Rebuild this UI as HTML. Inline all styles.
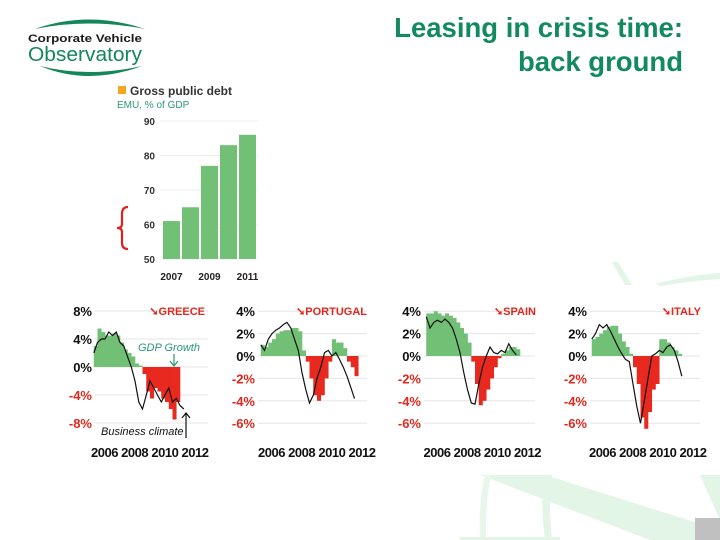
<!DOCTYPE html>
<html><head><meta charset="utf-8">
<style>
html,body{margin:0;padding:0;background:#fff;}
#root{position:relative;width:720px;height:540px;overflow:hidden;font-family:"Liberation Sans",sans-serif;}
.t{position:absolute;white-space:nowrap;}
</style></head>
<body>
<div id="root">
<svg id="bg" width="720" height="540" style="position:absolute;left:0;top:0">
  <polygon points="612,262 625,285 632,285 618,262" fill="#e3f5e6"/>
  <path d="M655,284 Q690,275 720,273 L720,279 Q690,281 660,286 Z" fill="#e3f5e6"/>
  <path d="M480,475 L650,540 L720,540 L720,530 L545,475 Z" fill="#e3f5e6"/>
  <path d="M545,475 Q540,500 545,540 L552,540 Q548,500 552,475 Z" fill="#e3f5e6"/>
  <path d="M485,475 Q478,505 480,540 L486,540 Q485,505 491,475 Z" fill="#e8f7ea"/>
  <path d="M700,475 L720,475 L720,520 Z" fill="#e3f5e6"/>
  <rect x="460" y="537" width="100" height="3" fill="#e3f5e6"/>
  <rect x="695" y="518" width="25" height="22" fill="#c0c0c0"/>
</svg>

<svg width="150" height="85" style="position:absolute;left:20px;top:10px">
  <path d="M15,19 Q68,0 125,19 Q68,8 15,19 Z" fill="#13865a"/>
  <path d="M20,56 Q68,76 122,56 Q68,68 20,56 Z" fill="#13865a"/>
  <text x="8" y="32" font-family="Liberation Sans,sans-serif" font-weight="bold" font-size="11" fill="#1b1b1b" textLength="114" lengthAdjust="spacingAndGlyphs">Corporate Vehicle</text>
  <text x="8" y="51" font-family="Liberation Sans,sans-serif" font-size="20" fill="#13865a" textLength="114" lengthAdjust="spacingAndGlyphs">Observatory</text>
</svg>

<div class="t" style="right:37px;top:11px;text-align:right;color:#128a5e;font-size:27.5px;font-weight:bold;line-height:34px;">Leasing in crisis time:<br>back ground</div>

<svg id="bars" width="180" height="200" style="position:absolute;left:100px;top:80px"></svg>
<svg id="small" width="720" height="180" style="position:absolute;left:0;top:290px"></svg>
</div>

<script>
// Bar chart data
const debtYears = ["2007","2008","2009","2010","2011"];
const debtValues = [61, 65, 77, 83, 86];
const debtTicks = [50, 60, 70, 80, 90];
const debtXLabels = ["2007","2009","2011"];

// Country chart data: quarterly from 2005.25
const greeceGdp = [3,5.5,5,4.5,4.5,4.8,4.5,3.5,2.5,2,1.5,0.5,0.2,-1,-3.5,-4.5,-3,-3.5,-4.5,-5,-6,-7.5,-5];
const greeceClimate = [2,3.5,4,4,5,4.5,5,3.5,3,1.5,0,-2,-5,-6,-4,-2,-3,-4,-5,-4,-3,-5,-4.5,-5.5,-6];
const portugalGdp = [1,0.8,1.2,1.5,2,2.2,2.3,2.3,2.5,2.5,2.2,0.5,-0.5,-2,-3.5,-4,-3.5,-2,-0.5,1.5,1.2,1.2,0.7,-0.5,-1,-1.8];
const portugalClimate = [1,0.5,1.5,2,2.3,2.5,2.8,3,2.5,1.5,0.5,-1.5,-3,-4.2,-3.5,-2,-1,0.3,0.5,0,0.3,-0.3,-1,-1.8,-2.8,-3.8];
const spainGdp = [3.8,3.8,4,3.8,3.6,3.8,3.6,3.4,3,2.5,2,1.2,-0.5,-2.5,-4.4,-4,-3,-2,-1,-0.2,0.2,0.5,0.8,0.8,0.6];
const spainClimate = [3.5,2.5,3,3.2,3,3.3,3,2.5,1.5,0.3,-1.5,-3,-4.2,-4.3,-2.5,-1,0,0.8,0.3,0.2,0.5,0.3,1.1,0.5,0.1];
const italyGdp = [1.5,1.7,2,2.3,2.6,2.7,2.7,2,1.3,0.8,0.2,-1,-2.5,-5.5,-6.5,-5,-3,-2.5,1.5,1.5,1.2,0.8,0.5,0.2];
const italyClimate = [1.5,2,2.8,2.5,2.8,2.2,1.5,0.8,0.2,-0.3,-0.5,-2.5,-4.5,-6,-4,-2,0,0.2,0.5,0.3,0.8,1,0.5,-0.5,-1.8];
const greeceTicks = [8,4,0,-4,-8];
const otherTicks = [4,2,0,-2,-4,-6];
const yearLabels = ["2006","2008","2010","2012"];

const NS = "http://www.w3.org/2000/svg";
function mk(parent, tag, attrs, text){
  const e = document.createElementNS(NS, tag);
  for (const k in attrs) e.setAttribute(k, attrs[k]);
  if (text !== undefined) e.textContent = text;
  parent.appendChild(e);
  return e;
}

// ---- bar chart ----
(function(){
  const s = document.getElementById('bars');
  const y = v => 179 - (v - 50) * 3.45;
  const x0 = 63, step = 19;
  let g = mk(s,'rect',{x:18,y:6,width:8,height:8,fill:'#f5a623'});
  
  
  g = mk(s,'text',{x:30,y:15,'font-size':'12','font-weight':'bold',fill:'#333','font-family':'Liberation Sans,sans-serif'},'Gross public debt');
  
  
  g = mk(s,'text',{x:17,y:28,'font-size':'10',fill:'#2a9a70','font-family':'Liberation Sans,sans-serif'},'EMU, % of GDP');
  
  
  debtTicks.forEach(t=>{
    mk(s,'line',{x1:60,x2:158,y1:y(t),y2:y(t),stroke:'#eee','stroke-width':1});
    const lb = mk(s,'text',{x:55,y:y(t)+4,'font-size':'10','font-weight':'bold','text-anchor':'end',fill:'#333','font-family':'Liberation Sans,sans-serif'},String(t));
    
    
  });
  debtValues.forEach((v,i)=>{
    const r = mk(s,'rect',{x:x0+i*step,y:y(v),width:17,height:y(50)-y(v),fill:'#72bf76'});
    
    
  });
  debtYears.forEach((yr,i)=>{
    if (debtXLabels.indexOf(yr)<0) return;
    const lb = mk(s,'text',{x:x0+i*step+8.5,y:200,'font-size':'10','font-weight':'bold','text-anchor':'middle',fill:'#222','font-family':'Liberation Sans,sans-serif'},yr);
    
    
  });
  const b = mk(s,'path',{d:'M28,127 Q22,127 22,134 L22,144 Q22,148 17,148 Q22,148 22,152 L22,163 Q22,169 28,169',fill:'none',stroke:'#d22',"stroke-width":2.2});
  
  
})();

// ---- country charts ----
const charts = [
  {name:'greece', title:'GREECE', gdp:greeceGdp, clim:greeceClimate, ticks:greeceTicks, x2006:105, y0:77, ppu:7, titleX:205, plotL:95, plotR:208},
  {name:'portugal', title:'PORTUGAL', gdp:portugalGdp, clim:portugalClimate, ticks:otherTicks, x2006:272, y0:66, ppu:11.2, titleX:367, plotL:258, plotR:367},
  {name:'spain', title:'SPAIN', gdp:spainGdp, clim:spainClimate, ticks:otherTicks, x2006:437.5, y0:66, ppu:11.2, titleX:536, plotL:424, plotR:535},
  {name:'italy', title:'ITALY', gdp:italyGdp, clim:italyClimate, ticks:otherTicks, x2006:603, y0:66, ppu:11.2, titleX:701, plotL:590, plotR:700}
];
const s2 = document.getElementById('small');
charts.forEach(c=>{
  const g = mk(s2,'g',{});
  
  
  const X = yr => c.x2006 + (yr-2006)*15;
  const Y = v => c.y0 - v*c.ppu;
  c.ticks.forEach(t=>{
    mk(g,'line',{x1:c.plotL,x2:c.plotR,y1:Y(t),y2:Y(t),stroke:'#e6e6e6','stroke-width':1});
    const lb = mk(g,'text',{x:c.plotL-3,y:Y(t)+5,'font-size':'13','font-weight':'bold','text-anchor':'end',fill:t<0?'#e0281e':'#111','font-family':'Liberation Sans,sans-serif'},t+'%');
    
    
  });
  c.gdp.forEach((v,i)=>{
    const yr = 2005.25 + i*0.25;
    const r = mk(g,'rect',{x:X(yr),y:Math.min(Y(v),Y(0)),width:4.05,height:Math.abs(Y(v)-Y(0)),fill:v>=0?'#72bf76':'#e8291f'});
    
    
  });
  const pts = c.clim.map((v,i)=>X(2005.25+i*0.25).toFixed(1)+','+Y(v).toFixed(1)).join(' ');
  const pl = mk(g,'polyline',{points:pts,fill:'none',stroke:'#111','stroke-width':1.2});
  
  
  const tt = mk(g,'text',{x:c.titleX,y:25,'font-size':'11','font-weight':'bold','text-anchor':'end',fill:'#e0281e','font-family':'Liberation Sans,sans-serif'},'\u2798'+c.title);
  
  
  const yl = mk(g,'text',{x:c.x2006+45,y:167,'font-size':'13','font-weight':'bold','text-anchor':'middle',fill:'#111','font-family':'Liberation Sans,sans-serif',textLength:'118'},yearLabels.join(' '));
  
  
});
// Greece annotations
let a = mk(s2,'text',{x:138,y:61,'font-size':'11','font-style':'italic',fill:'#2a9a70','font-family':'Liberation Sans,sans-serif'},'GDP Growth');


mk(s2,'path',{d:'M174,64 L174,76 M170,71 L174,76 L178,71',fill:'none',stroke:'#2a9a70','stroke-width':1.2});
a = mk(s2,'text',{x:101,y:145,'font-size':'11','font-style':'italic',fill:'#111','font-family':'Liberation Sans,sans-serif'},'Business climate');


mk(s2,'path',{d:'M186,148 L186,123 M182,128 L186,123 L190,128',fill:'none',stroke:'#111','stroke-width':1.2});
</script>
</body></html>
